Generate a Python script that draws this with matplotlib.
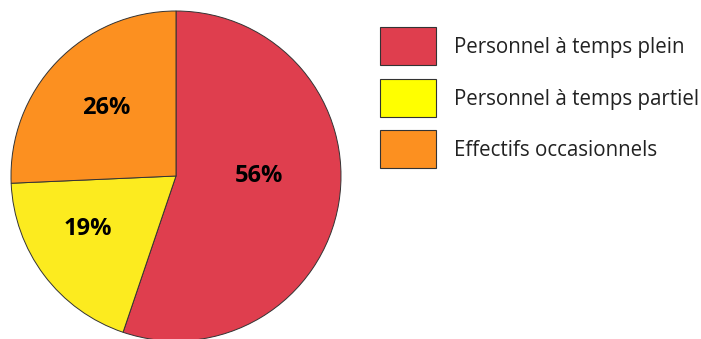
import matplotlib
matplotlib.use("Agg")
import numpy as np
import matplotlib.pyplot as plt
from matplotlib.patches import Rectangle

categories = ["Personnel à temps plein", "Personnel à temps partiel", "Effectifs occasionnels"]
shares = [55.2, 19.1, 25.7]
pct_labels = ["56%", "19%", "26%"]
pie_colors = ["#DF3E4E", "#FCEB1F", "#FC9020"]
legend_colors = ["#DF3E4E", "#FFFF00", "#FC9020"]

plt.rcParams["font.family"] = ["Open Sans", "DejaVu Sans"]

W, H = 701, 339
fig = plt.figure(figsize=(W / 100, H / 100), dpi=100)

# pie centre (176, 176) px, radius 165 px
lim = 1.02
r = 165
cx, cy = 176, 176
size = 2 * r * lim
ax = fig.add_axes([(cx - size / 2) / W, (H - cy - size / 2) / H, size / W, size / H])
wedges, texts, autotexts = ax.pie(
    shares, colors=pie_colors, startangle=90, counterclock=False,
    autopct="%1.0f%%", pctdistance=0.6,
    wedgeprops=dict(edgecolor="#333333", linewidth=0.7),
    textprops=dict(fontsize=17, fontweight="bold", color="black"))

# label placement: radius fraction and angle (deg) per slice
label_r = [0.5, 0.62, 0.59]
label_ang = [0, 211, 136]
for t, lab, rr, a in zip(autotexts, pct_labels, label_r, label_ang):
    t.set_text(lab)
    t.set_position((rr * np.cos(np.radians(a)), rr * np.sin(np.radians(a))))
ax.set_xlim(-lim, lim)
ax.set_ylim(-lim, lim)
ax.set_aspect("equal")

# legend drawn by hand: box 56x38 px, rows 51.5 px apart
for i, (name, col) in enumerate(zip(categories, legend_colors)):
    top = 27 + i * 51.5
    fig.patches.append(Rectangle((380 / W, (H - top - 38) / H), 56 / W, 38 / H,
                                 transform=fig.transFigure, facecolor=col,
                                 edgecolor="#333333", linewidth=0.8))
    fig.text(454 / W, (H - top - 21) / H, name, fontsize=14.8,
             va="center", ha="left", color="#222222")

fig.savefig("out.png", dpi=100)
